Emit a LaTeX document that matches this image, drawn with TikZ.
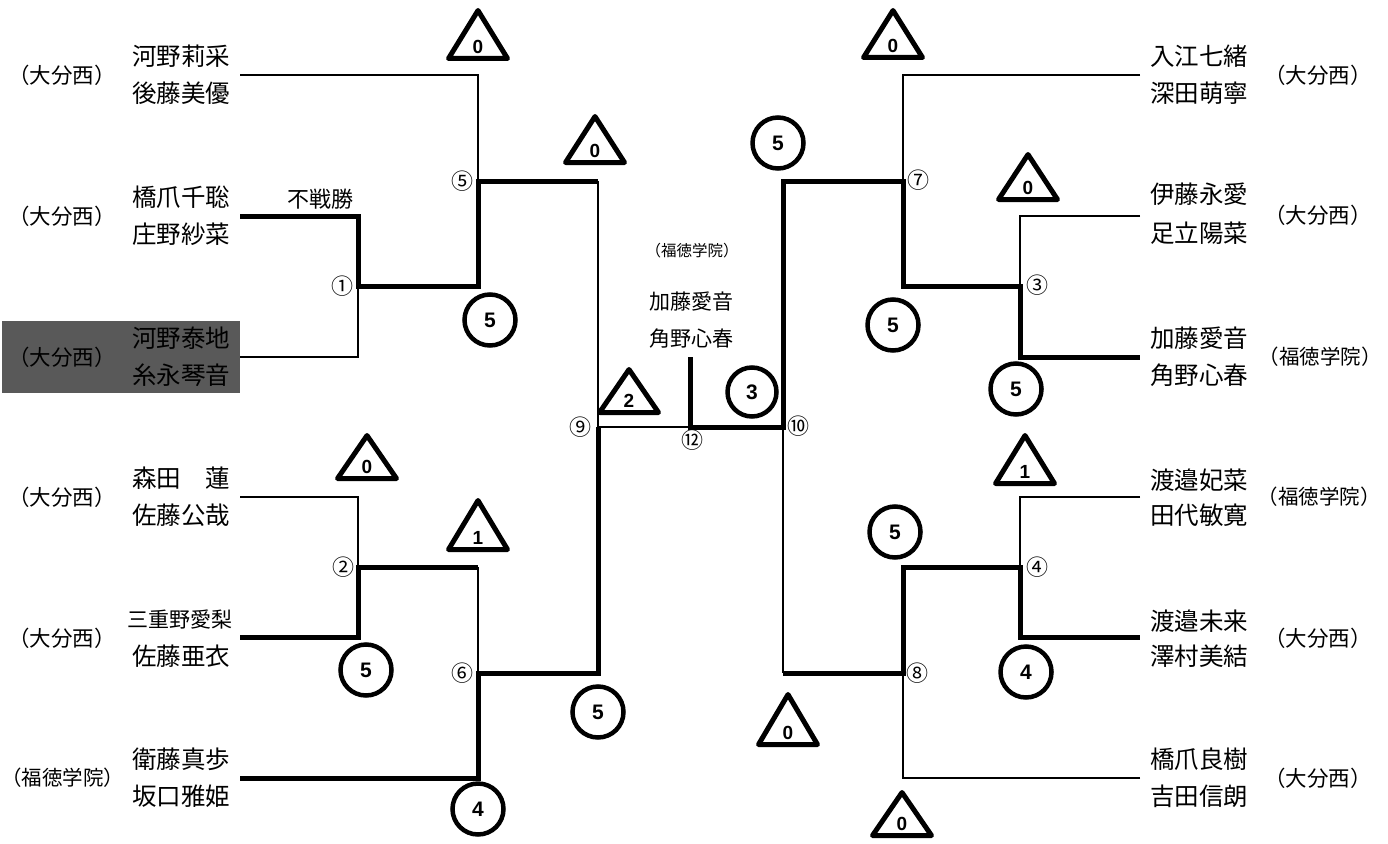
\documentclass[tikz,border=0pt]{standalone}
\usepackage{fontspec}
\setmainfont{Noto Sans CJK JP}
\newfontfamily\scorefont{Liberation Sans}
\definecolor{boxgray}{HTML}{595959}
\newcommand\scoretri[5]{% name, x, apex y, base y, number
  \draw[tri] (#2-29.5,#4-2.5) -- (#2,#3+2.5) -- (#2+29.5,#4-2.5) -- cycle;
  \node[score] (#1) at (#2,#4-14) {#5};}
\begin{document}
\begin{tikzpicture}[x=1pt,y=-1pt,
  thinline/.style={line width=1.5pt},
  win/.style={line width=5pt},
  pname/.style={font=\fontsize{24.5}{24.5}\selectfont, inner sep=0pt},
  smallname/.style={font=\fontsize{21}{21}\selectfont, inner sep=0pt},
  school/.style={font=\fontsize{21.5}{21.5}\selectfont, inner sep=0pt},
  fusenstyle/.style={font=\fontsize{22}{22}\selectfont, inner sep=0pt},
  tiny/.style={font=\fontsize{15.5}{15.5}\selectfont, inner sep=0pt},
  mno/.style={font=\fontsize{22}{22}\selectfont, inner sep=0pt},
  score/.style={font=\scorefont\bfseries\fontsize{19}{19}\selectfont, inner sep=0pt},
  ring/.style={circle, draw, line width=4.5pt, minimum size=51pt, inner sep=0pt,
    font=\scorefont\bfseries\fontsize{21}{21}\selectfont},
  tri/.style={line width=5pt, line join=round},
]
\useasboundingbox (0,0) rectangle (1388,843);
\node[fill=boxgray, minimum width=238pt, minimum height=72pt, inner sep=0pt, anchor=north west] (shade) at (2,321) {};

% ---------- bracket points
\coordinate (e1) at (240,75);
\coordinate (e2) at (240,216);
\coordinate (e3) at (240,357);
\coordinate (e4) at (240,497);
\coordinate (e5) at (240,637);
\coordinate (e6) at (240,778);
\coordinate (r1) at (1140,75);
\coordinate (r2) at (1140,216);
\coordinate (r3) at (1140,357);
\coordinate (r4) at (1140,497);
\coordinate (r5) at (1140,637);
\coordinate (r6) at (1140,778);
\coordinate (m1) at (358,286);
\coordinate (m1r) at (478,286);
\coordinate (m5) at (478,181);
\coordinate (m5r) at (598,181);
\coordinate (m9) at (598,427);
\coordinate (m12) at (690,427);
\coordinate (stem) at (690,357);
\coordinate (m10) at (783,427);
\coordinate (m7l) at (783,181);
\coordinate (m7) at (903,181);
\coordinate (m7b) at (903,286);
\coordinate (m3) at (1020,286);
\coordinate (r3b) at (1020,357);
\coordinate (m2) at (358,567);
\coordinate (m2r) at (478,567);
\coordinate (m6) at (478,673);
\coordinate (m6r) at (598,673);
\coordinate (m8l) at (783,673);
\coordinate (m8) at (903,673);
\coordinate (m8t) at (903,567);
\coordinate (m4) at (1020,567);
\coordinate (r5b) at (1020,637);

% ---------- thin lines
\draw[thinline] (e1) -| (m5);
\draw[thinline] (e3) -| (m1);
\draw[thinline] (m5r) -- (m9) -- (m12);
\draw[thinline] (e4) -| (m2);
\draw[thinline] (m2r) -- (m6);
\draw[thinline] (m10) -- (m8l);
\draw[thinline] (r1) -| (m7);
\draw[thinline] (r2) -| (m3);
\draw[thinline] (r4) -| (m4);
\draw[thinline] (r6) -| (m8);

% ---------- winning lines
\draw[win] (e2) -| (m1) -- (m1r) -- (m5) -- (m5r);
\draw[win] (e5) -| (m2) -- (m2r);
\draw[win] (e6) -| (m6) -- (m6r) -- (m9);
\draw[win] (stem) -- (m12) -- (m10) -- (m7l) -- (m7) -- (m7b) -- (m3) -- (r3b) -- (r3);
\draw[win] (m8l) -- (m8) -- (m8t) -- (m4) -- (r5b) -- (r5);

% ---------- match numbers
\node[mno] (n1) at (342,286) {①};
\node[mno] (n2) at (343,567) {②};
\node[mno] (n3) at (1037,285) {③};
\node[mno] (n4) at (1037,567) {④};
\node[mno] (n5) at (462,181) {⑤};
\node[mno] (n6) at (462,673) {⑥};
\node[mno] (n7) at (918,180) {⑦};
\node[mno] (n8) at (917,673) {⑧};
\node[mno] (n9) at (580,427) {⑨};
\node[mno] (n10) at (798,426) {⑩};
\node[mno] (n12) at (692,440) {⑫};
\node[fusenstyle] (fusen) at (320,199) {不戦勝};

% ---------- left names
\node[pname] (a1) at (181,56.5) {河野莉采};
\node[pname] (a2) at (181,93.5) {後藤美優};
\node[school] (s1) at (62,75) {（大分西）};
\node[pname] (b1) at (181,197.5) {橋爪千聡};
\node[pname] (b2) at (181,234.5) {庄野紗菜};
\node[school] (s2) at (62,216) {（大分西）};
\node[pname] (c1) at (181,338.5) {河野泰地};
\node[pname] (c2) at (181,375.5) {糸永琴音};
\node[school] (s3) at (62,357) {（大分西）};
\node[pname] (d1) at (181,478.5) {森田　蓮};
\node[pname] (d2) at (181,515.5) {佐藤公哉};
\node[school] (s4) at (62,497) {（大分西）};
\node[smallname] (f1) at (180,619.5) {三重野愛梨};
\node[pname] (f2) at (181,656.5) {佐藤亜衣};
\node[school] (s5) at (62,638) {（大分西）};
\node[pname] (g1) at (181,759.5) {衛藤真歩};
\node[pname] (g2) at (181,796.5) {坂口雅姫};
\node[school, font=\fontsize{20.5}{20.5}\selectfont] (s6) at (63,778) {（福徳学院）};

% ---------- right names
\node[pname] (h1) at (1199,56.5) {入江七緒};
\node[pname] (h2) at (1199,93.5) {深田萌寧};
\node[school] (t1) at (1318,75) {（大分西）};
\node[pname] (i1) at (1199,194) {伊藤永愛};
\node[pname] (i2) at (1199,233) {足立陽菜};
\node[school] (t2) at (1318,215) {（大分西）};
\node[pname] (j1) at (1199,338.5) {加藤愛音};
\node[pname] (j2) at (1199,375.5) {角野心春};
\node[school, font=\fontsize{20.5}{20.5}\selectfont] (t3) at (1320,357) {（福徳学院）};
\node[pname] (k1) at (1199,480) {渡邉妃菜};
\node[pname] (k2) at (1199,515.5) {田代敏寛};
\node[school, font=\fontsize{20.5}{20.5}\selectfont] (t4) at (1319,497) {（福徳学院）};
\node[pname] (l1) at (1199,621) {渡邉未来};
\node[pname] (l2) at (1199,656) {澤村美結};
\node[school] (t5) at (1318,638) {（大分西）};
\node[pname] (o1) at (1199,759.5) {橋爪良樹};
\node[pname] (o2) at (1199,796.5) {吉田信朗};
\node[school] (t6) at (1318,778) {（大分西）};

% ---------- champion
\node[tiny] (cs) at (692,251) {（福徳学院）};
\node[smallname] (cn1) at (691,302) {加藤愛音};
\node[smallname] (cn2) at (691,339) {角野心春};

% ---------- scores: circles
\node[ring] (sc1) at (490,320) {5};
\node[ring] (sc2) at (366,670) {5};
\node[ring] (sc3) at (478,809) {4};
\node[ring] (sc4) at (598,712) {5};
\node[ring, minimum size=49pt] (sc5) at (752,392) {3};
\node[ring] (sc6) at (778,143) {5};
\node[ring] (sc7) at (893,325) {5};
\node[ring] (sc8) at (1016,389) {5};
\node[ring] (sc9) at (895,532) {5};
\node[ring] (sc10) at (1026,672) {4};

% ---------- scores: triangles
\scoretri{st1}{478}{8}{61}{0}
\scoretri{st2}{595}{114}{165}{0}
\scoretri{st3}{367}{433}{481}{0}
\scoretri{st4}{478}{498}{552}{1}
\scoretri{st5}{629}{367}{415}{2}
\scoretri{st6}{893}{8}{60}{0}
\scoretri{st7}{1028}{152}{202}{0}
\scoretri{st8}{1025}{433}{486}{1}
\scoretri{st9}{788}{692}{747}{0}
\scoretri{st10}{902}{790}{838}{0}
\end{tikzpicture}
\end{document}
